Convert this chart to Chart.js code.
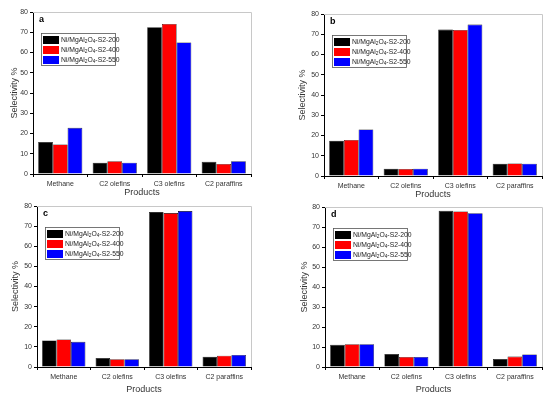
<!DOCTYPE html>
<html>
<head>
<meta charset="utf-8">
<script src="https://cdn.jsdelivr.net/npm/chart.js@4.4.1/dist/chart.umd.min.js"></script>
<style>
  body { margin: 0; background: #fff; width: 550px; height: 395px; position: relative; overflow: hidden; }
  .panel { position: absolute; }
</style>
</head>
<body>
<div class="panel" style="left:0;top:0;width:275px;height:198px"><canvas id="chart-a"></canvas></div>
<div class="panel" style="left:275px;top:0;width:275px;height:200px"><canvas id="chart-b"></canvas></div>
<div class="panel" style="left:0;top:197px;width:275px;height:198px"><canvas id="chart-c"></canvas></div>
<div class="panel" style="left:275px;top:197px;width:275px;height:198px"><canvas id="chart-d"></canvas></div>
<script>
// Categories and series
const products = ["Methane", "C2 olefins", "C3 olefins", "C2 paraffins"];
const seriesNames = ["Ni/MgAl₂O₄-S2-200", "Ni/MgAl₂O₄-S2-400", "Ni/MgAl₂O₄-S2-550"];
const yTicks = [0, 10, 20, 30, 40, 50, 60, 70, 80];

// Selectivity % values
const a200 = [15.8, 5.6, 72.5, 6.0];
const a400 = [14.6, 6.3, 74.1, 5.0];
const a550 = [22.8, 5.6, 65.0, 6.3];

const b200 = [17.4, 3.6, 72.3, 6.1];
const b400 = [17.8, 3.5, 72.1, 6.2];
const b550 = [23.0, 3.6, 74.8, 6.1];

const c200 = [13.2, 4.5, 77.0, 5.1];
const c400 = [13.7, 3.9, 76.5, 5.6];
const c550 = [12.5, 3.9, 77.5, 6.0];

const d200 = [11.1, 6.5, 78.1, 4.0];
const d400 = [11.4, 5.0, 77.8, 5.2];
const d550 = [11.4, 5.0, 76.9, 6.3];

const barColors = ["#000000", "#ff0000", "#0000ff"];
const FONT = "'Liberation Sans', Arial, sans-serif";

// grey frame on top/right like Origin plots
const framePlugin = {
    id: "frame",
    beforeDatasetsDraw(chart) {
        const { ctx, chartArea: a } = chart;
        ctx.save();
        ctx.strokeStyle = "#c8c8c8";
        ctx.lineWidth = 1;
        ctx.beginPath();
        ctx.moveTo(a.left, a.top + 0.5);
        ctx.lineTo(a.right + 0.5, a.top + 0.5);
        ctx.lineTo(a.right + 0.5, a.bottom);
        ctx.stroke();
        ctx.restore();
    }
};

// draw label, shrinking unicode subscripts
function drawRich(ctx, text, x, y, size) {
    const subs = { "₂": "2", "₄": "4" };
    for (const ch of text) {
        if (subs[ch]) {
            ctx.font = `${size * 0.7}px ${FONT}`;
            ctx.fillText(subs[ch], x, y + size * 0.3);
            x += ctx.measureText(subs[ch]).width;
        } else {
            ctx.font = `${size}px ${FONT}`;
            ctx.fillText(ch, x, y);
            x += ctx.measureText(ch).width;
        }
    }
}

// panel letter + boxed legend inside the plot
const insetPlugin = {
    id: "inset",
    afterDraw(chart, args, opts) {
        const { ctx, chartArea: a } = chart;
        ctx.save();
        ctx.fillStyle = "#000";
        ctx.textBaseline = "middle";
        ctx.font = `bold 9px ${FONT}`;
        ctx.fillText(opts.letter, a.left + 6, a.top + 8);

        const bx = a.left + 8, by = a.top + 21, bw = 74, rowH = 10;
        const rows = chart.data.datasets.length;
        ctx.strokeStyle = "#555";
        ctx.lineWidth = 0.8;
        ctx.strokeRect(bx + 0.5, by + 0.5, bw, rows * rowH + 2);
        chart.data.datasets.forEach((ds, i) => {
            const ry = by + 2 + i * rowH;
            ctx.fillStyle = ds.backgroundColor;
            ctx.fillRect(bx + 2, ry + 1, 16, 8);
            ctx.fillStyle = "#222";
            drawRich(ctx, ds.label, bx + 20, ry + 5, 6.8);
        });
        ctx.restore();
    }
};

function makeChart(id, letter, values, box) {
    new Chart(document.getElementById(id), {
        type: "bar",
        data: {
            labels: products,
            datasets: values.map((v, i) => ({
                label: seriesNames[i],
                data: v,
                backgroundColor: barColors[i],
                borderColor: "#000",
                borderWidth: 0.6,
                categoryPercentage: 0.81,
                barPercentage: 1.0
            }))
        },
        options: {
            responsive: true,
            maintainAspectRatio: false,
            animation: false,
            layout: { padding: { top: box.top, right: box.right, left: box.pad, bottom: 0 } },
            plugins: {
                legend: { display: false },
                tooltip: { enabled: false },
                inset: { letter }
            },
            scales: {
                x: {
                    grid: { offset: true, drawOnChartArea: false, drawTicks: true, tickLength: 3, color: "#000" },
                    border: { color: "#000", width: 1 },
                    ticks: { color: "#333", font: { family: FONT, size: 7 }, padding: 3, maxRotation: 0 },
                    title: { display: true, text: "Products", color: "#333", font: { family: FONT, size: 9 }, padding: { top: 2, bottom: 0 } },
                    afterFit: s => { s.height = box.xh; }
                },
                y: {
                    min: 0, max: 80,
                    afterBuildTicks: s => { s.ticks = yTicks.map(v => ({ value: v })); },
                    grid: { drawOnChartArea: false, drawTicks: true, tickLength: 3, color: "#000" },
                    border: { color: "#000", width: 1 },
                    ticks: { color: "#333", font: { family: FONT, size: 7 }, padding: 2 },
                    title: { display: true, text: "Selectivity %", color: "#333", font: { family: FONT, size: 9 }, padding: { top: 0, bottom: 2 } },
                    afterFit: s => { s.width = box.left - box.pad; }
                }
            }
        },
        plugins: [framePlugin, insetPlugin]
    });
}

makeChart("chart-a", "a", [a200, a400, a550], { pad: 9, left: 33, top: 12, right: 24, xh: 24 });
makeChart("chart-b", "b", [b200, b400, b550], { pad: 22, left: 49, top: 14, right: 8, xh: 24 });
makeChart("chart-c", "c", [c200, c400, c550], { pad: 10, left: 37, top: 9, right: 24, xh: 28 });
makeChart("chart-d", "d", [d200, d400, d550], { pad: 24, left: 50, top: 10, right: 8, xh: 28 });
</script>
</body>
</html>
